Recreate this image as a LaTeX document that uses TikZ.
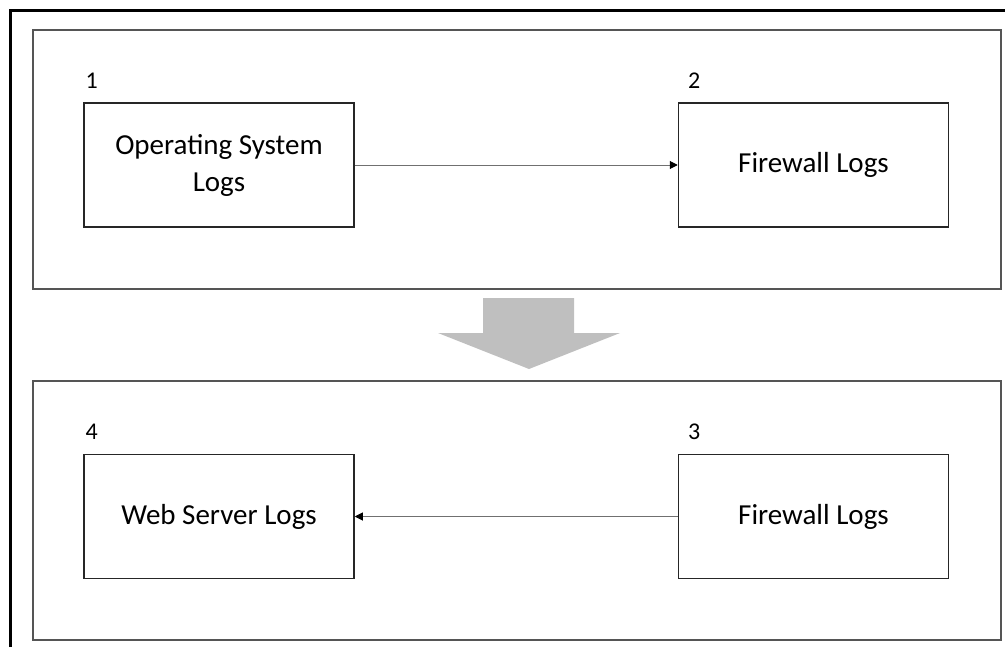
\documentclass[tikz,border=0pt]{standalone}
\usepackage{fontspec}
\setmainfont{Carlito}
\usepackage{tikz}
\usepackage{xcolor}
\usetikzlibrary{arrows.meta,positioning}
\definecolor{Frame}{HTML}{000000}
\definecolor{Panel}{HTML}{555555}
\definecolor{Edge}{HTML}{262626}
\definecolor{Link}{HTML}{707070}
\definecolor{Flow}{HTML}{BFBFBF}

\begin{document}
\begin{tikzpicture}[
  x=0.5pt,y=-0.5pt,
  node distance=113pt and 161.5pt,
  logbox/.style={draw=Edge,line width=0.75pt,minimum width=135pt,minimum height=62pt,inner sep=0pt,align=center,font=\fontsize{14.5}{18.5}\selectfont},
  panel/.style={draw=Panel,line width=1pt,minimum width=484pt,minimum height=129.5pt,inner sep=0pt},
  numlabel/.style={anchor=base west,inner sep=0pt,font=\fontsize{12}{14}\selectfont},
  link/.style={-{Triangle[length=4pt,width=4pt,color=black]},draw=Link,line width=0.5pt}
]
\useasboundingbox (0,0) rectangle (1005,647);
\draw[Frame,line width=1.5pt] (10,647) |- (1005,11);
\node[panel] (top) at (517,159.5) {};
\node[panel] (bottom) at (517,510) {};
\node[logbox] (os) at (219,165) {Operating System\\Logs};
\node[logbox,right=of os] (fw1) {Firewall Logs};
\node[logbox,below=of os] (web) {Web Server Logs};
\node[logbox,right=of web] (fw2) {Firewall Logs};
\node[numlabel] at ([xshift=1pt,yshift=7pt]os.north west) {1};
\node[numlabel] at ([xshift=5pt,yshift=7pt]fw1.north west) {2};
\node[numlabel] at ([xshift=5pt,yshift=7pt]fw2.north west) {3};
\node[numlabel] at ([xshift=1pt,yshift=7pt]web.north west) {4};
\draw[link] (os) -- (fw1);
\draw[link] (fw2) -- (web);
% big flow arrow between the panels
\fill[Flow] (483,298) -- (574,298) -- (574,333) -- (620,333) -- (529,369) -- (438,333) -- (483,333) -- cycle;
\end{tikzpicture}
\end{document}
